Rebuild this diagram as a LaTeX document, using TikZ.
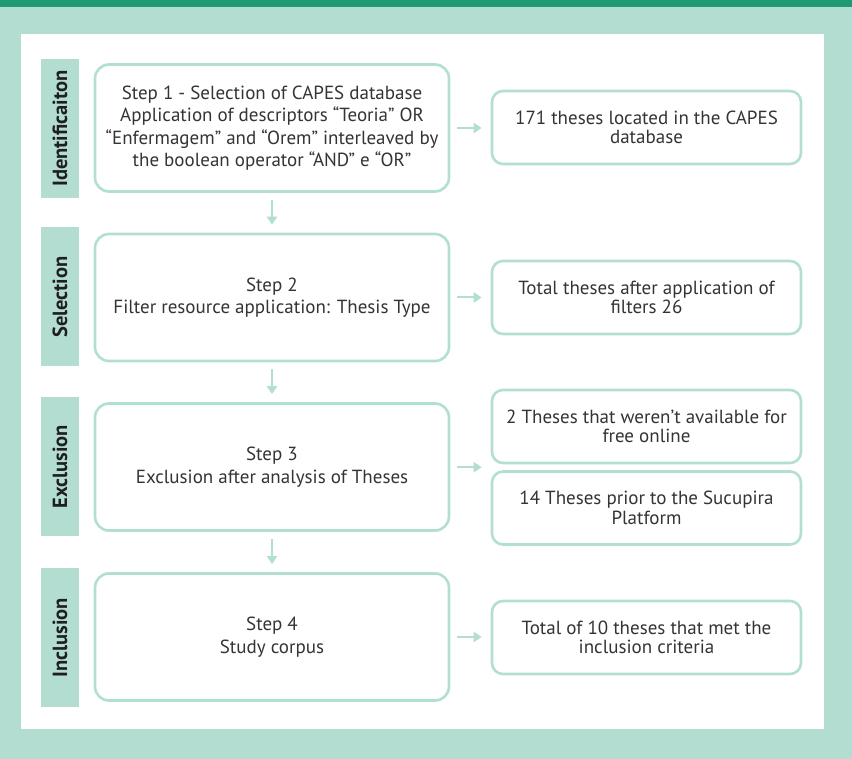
\documentclass[tikz,border=0pt]{standalone}
\usepackage{fontspec}
\setmainfont{PT Sans}
\usetikzlibrary{arrows.meta,calc}
\definecolor{mint}{RGB}{179,221,208}
\definecolor{edge}{RGB}{178,223,209}
\definecolor{deepgreen}{RGB}{30,155,116}
\definecolor{ink}{RGB}{52,52,52}
\tikzset{
  stepbox/.style={draw=edge, line width=2.6pt, rounded corners=14pt, fill=white,
    minimum width=354pt, minimum height=127pt, align=center, text=ink,
    font=\fontsize{19}{22.5}\selectfont},
  resbox/.style={draw=edge, line width=2.6pt, rounded corners=11pt, fill=white,
    minimum width=309pt, minimum height=73pt, align=center, text=ink,
    font=\fontsize{19}{19.5}\selectfont},
  phase/.style={fill=mint, minimum width=38pt, minimum height=139pt, inner sep=0pt},
  phasetext/.style={rotate=90, text=black!88, font=\fontsize{20.5}{20.5}\selectfont\bfseries},
  arr/.style={draw=edge, line width=2pt, -{Triangle[length=8pt,width=10pt]}},
}
\begin{document}
\begin{tikzpicture}[x=1pt,y=-1pt]
  % background and panel
  \fill[mint] (0,0) rectangle (852,759);
  \useasboundingbox (0,0) rectangle (852,759);
  \fill[deepgreen] (0,0) rectangle (852,7);
  \fill[white] (21,34) rectangle (824,729);

  % phase labels
  \node[phase] (p1) at (60,128.5) {};
  \node[phasetext] at (p1) {Identificaiton};
  \node[phase] (p2) at (60,297) {};
  \node[phasetext] at (p2) {Selection};
  \node[phase] (p3) at (60,466.5) {};
  \node[phasetext] at (p3) {Exclusion};
  \node[phase] (p4) at (60,637.5) {};
  \node[phasetext] at (p4) {Inclusion};

  % steps
  \node[stepbox] (b1) at (272,128) {Step 1 - Selection of CAPES database\\Application of descriptors “Teoria” OR\\“Enfermagem” and “Orem” interleaved by\\the boolean operator “AND” e “OR\symbol{34}};
  \node[stepbox] (b2) at (272,297.5) {Step 2\\Filter resource application: Thesis Type};
  \node[stepbox] (b3) at (272,467) {Step 3\\Exclusion after analysis of Theses};
  \node[stepbox] (b4) at (272,637) {Step 4\\Study corpus};

  % results
  \node[resbox] (r1) at (646.5,127.5) {171 theses located in the CAPES\\database};
  \node[resbox] (r2) at (646.5,297.5) {Total theses after application of\\filters 26};
  \node[resbox] (r3a) at (646.5,426.5) {2 Theses that weren\symbol{39}t available for\\free online};
  \node[resbox] (r3b) at (646.5,508) {14 Theses prior to the Sucupira\\Platform};
  \node[resbox] (r4) at (646.5,637.5) {Total of 10 theses that met the\\inclusion criteria};
  \coordinate (r3) at ($(r3a.south west)!0.5!(r3b.north west)$);

  % flow
  \draw[arr, shorten <=7pt, shorten >=8pt] (b1) -- (b2);
  \draw[arr, shorten <=7pt, shorten >=8pt] (b2) -- (b3);
  \draw[arr, shorten <=7pt, shorten >=8pt] (b3) -- (b4);
  \draw[arr, shorten <=7pt, shorten >=9pt] (b1.east) -- (b1.east -| r1.west);
  \draw[arr, shorten <=7pt, shorten >=9pt] (b2.east) -- (b2.east -| r2.west);
  \draw[arr, shorten <=7pt, shorten >=9pt] (b3.east |- r3) -- (r3);
  \draw[arr, shorten <=7pt, shorten >=9pt] (b4.east) -- (b4.east -| r4.west);
\end{tikzpicture}
\end{document}
